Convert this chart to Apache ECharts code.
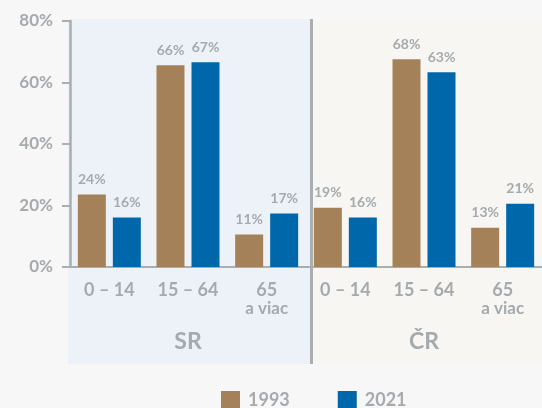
<!DOCTYPE html>
<html>
<head>
<meta charset="utf-8">
<script src="https://cdn.jsdelivr.net/npm/echarts@6/dist/echarts.min.js"></script>
<style>
  html, body { margin: 0; padding: 0; background: #f7f7f7; }
  #chart { width: 542px; height: 408px; }
</style>
</head>
<body>
<div id="chart"></div>
<script>
const categories = ['0 – 14', '15 – 64', '65\na viac', '0 – 14', '15 – 64', '65\na viac']
const groups = ['', 'SR', '', '', 'ČR', '']
const values1993 = [23.6, 65.6, 10.6, 19.3, 67.6, 12.8]
const values2021 = [16.1, 66.6, 17.4, 16.1, 63.3, 20.6]
const yTicks = [0, 20, 40, 60, 80]

const gray = '#a4aaae'
const lineGray = '#a9aeb1'
const font = 'Lato'

const chart = echarts.init(document.getElementById('chart'))

const barLabel = {
  show: true,
  position: 'top',
  distance: 8,
  color: gray,
  fontFamily: font,
  fontWeight: 'bold',
  fontSize: 14,
  formatter: (p) => Math.round(p.value) + '%'
}

const option = {
  backgroundColor: '#f7f7f7',
  animation: false,
  grid: { left: 70, top: 21, width: 481, height: 246 },
  legend: {
    data: ['1993', '2021'],
    left: 221,
    top: 391,
    padding: 0,
    icon: 'rect',
    itemWidth: 19,
    itemHeight: 19,
    itemGap: 48,
    textStyle: { color: gray, fontFamily: font, fontWeight: 'bold', fontSize: 18, padding: [0, 0, 0, 3] }
  },
  graphic: [
    // panel backgrounds + divider
    { type: 'rect', z: -10, shape: { x: 68, y: 19, width: 243, height: 345 }, style: { fill: '#edf2f9' } },
    { type: 'rect', z: -10, shape: { x: 311, y: 19, width: 240, height: 345 }, style: { fill: '#f7f6f3' } },
    { type: 'line', z: -5, shape: { x1: 311.5, y1: 19, x2: 311.5, y2: 364 }, style: { stroke: lineGray, lineWidth: 3 } }
  ],
  xAxis: [
    {
      type: 'category',
      data: categories,
      axisTick: { show: false },
      axisLine: { lineStyle: { color: lineGray, width: 2 } },
      axisLabel: {
        margin: 14,
        interval: 0,
        formatter: (v) => {
          const parts = v.split('\n')
          return parts.length > 1 ? `{a|${parts[0]}}\n{b|${parts[1]}}` : `{a|${v}}`
        },
        rich: {
          a: { color: gray, fontFamily: font, fontWeight: 'bold', fontSize: 18, lineHeight: 19 },
          b: { color: gray, fontFamily: font, fontWeight: 'bold', fontSize: 17, lineHeight: 17 }
        }
      }
    },
    {
      type: 'category',
      data: groups,
      position: 'bottom',
      axisLine: { show: false },
      axisTick: { show: false },
      axisLabel: {
        margin: 63,
        interval: 0,
        color: gray,
        fontFamily: font,
        fontWeight: 'bold',
        fontSize: 23,
        lineHeight: 23
      }
    }
  ],
  yAxis: {
    type: 'value',
    min: yTicks[0],
    max: yTicks[yTicks.length - 1],
    interval: 20,
    splitLine: { show: false },
    axisLine: { show: true, lineStyle: { color: lineGray, width: 2.5 } },
    axisTick: { show: true, length: 8, lineStyle: { color: lineGray, width: 2 } },
    axisLabel: {
      margin: 17,
      color: gray,
      fontFamily: font,
      fontWeight: 'bold',
      fontSize: 17,
      formatter: '{value}%'
    }
  },
  series: [
    {
      name: '1993',
      type: 'bar',
      data: values1993,
      barWidth: 28,
      barGap: '25%',
      itemStyle: { color: '#a58159' },
      label: barLabel
    },
    {
      name: '2021',
      type: 'bar',
      data: values2021,
      barWidth: 28,
      itemStyle: { color: '#0067aa' },
      label: barLabel
    }
  ]
}

chart.setOption(option)
</script>
</body>
</html>
